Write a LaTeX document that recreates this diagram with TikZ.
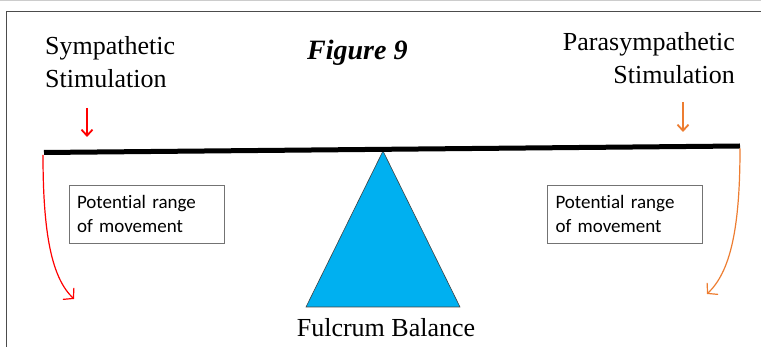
\documentclass[tikz,border=0pt]{standalone}
\usepackage{fontspec}
\setmainfont{Liberation Serif}
\newfontfamily\boxfont[Ligatures=NoCommon]{Carlito}
\usetikzlibrary{positioning,arrows.meta,calc}
\definecolor{symred}{RGB}{255,0,0}
\definecolor{paraorange}{RGB}{237,125,49}
\definecolor{fulcblue}{RGB}{0,176,240}
\tikzset{
  lbl/.style={inner sep=0pt, font=\fontsize{26}{33}\selectfont},
  rng/.style={draw=black!55, line width=0.8pt, text width=139pt, inner xsep=8pt, inner ysep=0pt, minimum height=58pt, font=\boxfont\fontsize{19}{24}\selectfont, align=left},
  push/.style={-{Straight Barb[length=6pt,width=11pt]}, line width=1.8pt},
  swing/.style={-{Straight Barb[length=7pt,width=16pt]}, line width=1.2pt},
}

\begin{document}
\begin{tikzpicture}[x=1pt,y=-1pt]
\useasboundingbox (0,0) rectangle (761,347);
% frame
\draw[black!20, line width=1.5pt] (0,0.75) -- (761,0.75);
\draw[black!70, line width=1.2pt] (6.5,347) -- (6.5,11.5) -- (761,11.5);
% labels
\node[lbl, anchor=north west, align=left] (symp) at (45,36) {Sympathetic\\Stimulation};
\node[lbl, anchor=north east, align=right] (para) at (735,32) {Parasympathetic\\Stimulation};
\node[lbl, anchor=base west, font=\fontsize{28}{34}\selectfont\bfseries\itshape] (fig) at (307,60) {Figure 9};
\node[rng] (rngL) at (146.5,214) {Potential range\\of movement};
\node[rng] (rngR) at (625,214) {Potential range\\of movement};
\node[lbl, anchor=base] (fulc) at (386,337) {Fulcrum Balance};
% fulcrum and beam
\coordinate (apex) at (383,151);
\coordinate (baseL) at (306,307);
\coordinate (baseR) at (460,307);
\filldraw[fill=fulcblue, draw=black!75, line width=0.6pt] (apex) -- (baseL) -- (baseR) -- cycle;
\coordinate (beamL) at (44,152.5);
\coordinate (beamR) at (740,146);
\draw[line width=5pt] (beamL) -- (beamR);
% stimulation arrows
\coordinate (sympTop) at (87,108); \coordinate (sympBot) at (87,137);
\coordinate (paraTop) at (683,102); \coordinate (paraBot) at (683,132);
\draw[push, symred] (sympTop) -- (sympBot);
\draw[push, paraorange] (paraTop) -- (paraBot);
% swing
\coordinate (swingL) at (74,299);
\coordinate (swingR) at (707,294);
\draw[swing, symred] ($(beamL)+(-1,2.5)$) .. controls (43,235) and (52,278) .. (swingL);
\draw[swing, paraorange] ($(beamR)+(0,2.5)$) .. controls (740,230) and (730,272) .. (swingR);
\end{tikzpicture}
\end{document}
